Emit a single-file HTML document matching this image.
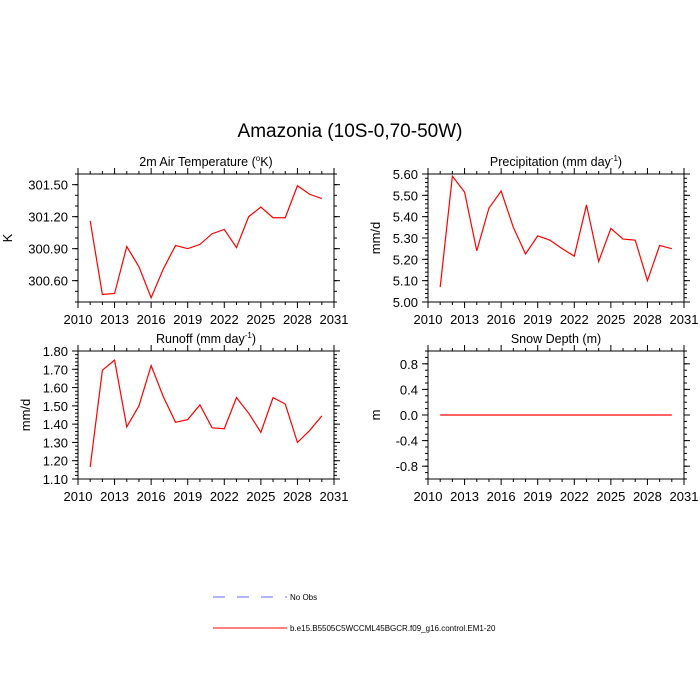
<!DOCTYPE html>
<html><head><meta charset="utf-8"><style>
body{margin:0;background:#fff}
svg{display:block;font-family:"Liberation Sans",sans-serif}
</style></head><body>
<svg id="c" width="700" height="700" viewBox="0 0 700 700">
<text x="350" y="137" font-size="19" text-anchor="middle">Amazonia (10S-0,70-50W)</text>
<g>
<line x1="213" y1="597" x2="287" y2="597" stroke="#6666ff" stroke-width="1" stroke-dasharray="12,12"/>
<text x="290" y="600" font-size="8">No Obs</text>
<line x1="213" y1="628" x2="287" y2="628" stroke="#ff0000" stroke-width="1"/>
<text x="290" y="631" font-size="8">b.e15.B5505C5WCCML45BGCR.f09_g16.control.EM1-20</text>
</g>
</svg>
<script>
const years = [2011,2012,2013,2014,2015,2016,2017,2018,2019,2020,2021,2022,2023,2024,2025,2026,2027,2028,2029,2030];
const xTicks = [2010,2013,2016,2019,2022,2025,2028,2031];
const tempValues = [301.16,300.47,300.48,300.92,300.73,300.44,300.71,300.93,300.90,300.94,301.04,301.08,300.91,301.20,301.29,301.19,301.19,301.49,301.41,301.37];
const precipValues = [5.07,5.59,5.515,5.24,5.44,5.52,5.35,5.225,5.31,5.29,5.25,5.215,5.455,5.19,5.345,5.295,5.29,5.10,5.265,5.25];
const runoffValues = [1.165,1.695,1.75,1.385,1.50,1.72,1.55,1.41,1.425,1.505,1.38,1.375,1.545,1.46,1.355,1.545,1.51,1.30,1.365,1.445];
const snowValues = [0,0,0,0,0,0,0,0,0,0,0,0,0,0,0,0,0,0,0,0];
const tempTicks = [300.60,300.90,301.20,301.50];
const precipTicks = [5.00,5.10,5.20,5.30,5.40,5.50,5.60];
const runoffTicks = [1.10,1.20,1.30,1.40,1.50,1.60,1.70,1.80];
const snowTicks = [-0.8,-0.4,0.0,0.4,0.8];

const NS='http://www.w3.org/2000/svg';
const svg=document.getElementById('c');
function mk(tag,attrs,parent){const e=document.createElementNS(NS,tag);for(const k in attrs)e.setAttribute(k,attrs[k]);(parent||svg).appendChild(e);return e;}

function panel(o){
  const g=mk('g',{});
  
  
  const X=v=>o.x0+(v-2010)/(2031-2010)*(o.x1-o.x0);
  const Y=v=>o.y1-(v-o.ymin)/(o.ymax-o.ymin)*(o.y1-o.y0);
  const fr=mk('rect',{x:o.x0,y:o.y0,width:o.x1-o.x0,height:o.y1-o.y0,fill:'none',stroke:'#000','stroke-width':1},g);
  
  
  for(let yr=2010;yr<=2031;yr++){
    const x=X(yr),maj=(yr-2010)%3===0,L=maj?6:3;
    mk('line',{x1:x,y1:o.y1,x2:x,y2:o.y1+L,stroke:'#000'},g);
    mk('line',{x1:x,y1:o.y0,x2:x,y2:o.y0-L,stroke:'#000'},g);
  }
  xTicks.forEach(t=>{
    const tx=mk('text',{x:X(t),y:o.y1+22,'font-size':13,'text-anchor':'middle'},g);tx.textContent=t;
    
    
  });
  const steps=Math.round((o.ymax-o.ymin)/o.minor);
  for(let i=0;i<=steps;i++){
    const y=Y(o.ymin+i*o.minor);
    mk('line',{x1:o.x0,y1:y,x2:o.x0-3,y2:y,stroke:'#000'},g);
    mk('line',{x1:o.x1,y1:y,x2:o.x1+3,y2:y,stroke:'#000'},g);
  }
  o.ticks.forEach(t=>{
    const y=Y(t);
    mk('line',{x1:o.x0,y1:y,x2:o.x0-6,y2:y,stroke:'#000'},g);
    mk('line',{x1:o.x1,y1:y,x2:o.x1+6,y2:y,stroke:'#000'},g);
    const tx=mk('text',{x:o.x0-10,y:y+5,'font-size':13,'text-anchor':'end'},g);tx.textContent=t.toFixed(o.dec);
    
    
  });
  const ti=mk('text',{x:(o.x0+o.x1)/2,y:o.y0-8,'font-size':12.5,'text-anchor':'middle'},g);
  ti.innerHTML=o.title;
  
  
  const yl=mk('text',{x:0,y:0,'font-size':13,'text-anchor':'middle',transform:`translate(${o.ylx},${(o.y0+o.y1)/2}) rotate(-90)`},g);
  yl.textContent=o.ylab;
  
  
  const pts=years.map((yr,i)=>X(yr).toFixed(2)+','+Y(o.vals[i]).toFixed(2)).join(' ');
  const pl=mk('polyline',{points:pts,fill:'none',stroke:'#ff0000','stroke-width':1.2},g);
  
  
}
panel({name:'air-temperature-panel',x0:78,x1:334,y0:174,y1:302,ymin:300.40,ymax:301.60,ticks:tempTicks,minor:0.1,dec:2,vals:tempValues,title:'2m Air Temperature (<tspan font-size="8" dy="-5">o</tspan><tspan dy="5">K)</tspan>',ylab:'K',ylx:12});
panel({name:'precipitation-panel',x0:428,x1:684,y0:174,y1:302,ymin:5.00,ymax:5.60,ticks:precipTicks,minor:0.02,dec:2,vals:precipValues,title:'Precipitation (mm day<tspan font-size="8" dy="-5">-1</tspan><tspan dy="5">)</tspan>',ylab:'mm/d',ylx:380});
panel({name:'runoff-panel',x0:78,x1:334,y0:351,y1:479,ymin:1.10,ymax:1.80,ticks:runoffTicks,minor:0.02,dec:2,vals:runoffValues,title:'Runoff (mm day<tspan font-size="8" dy="-5">-1</tspan><tspan dy="5">)</tspan>',ylab:'mm/d',ylx:30});
panel({name:'snow-depth-panel',x0:428,x1:684,y0:351,y1:479,ymin:-1,ymax:1,ticks:snowTicks,minor:0.1,dec:1,vals:snowValues,title:'Snow Depth (m)',ylab:'m',ylx:380});
</script>
</body></html>
